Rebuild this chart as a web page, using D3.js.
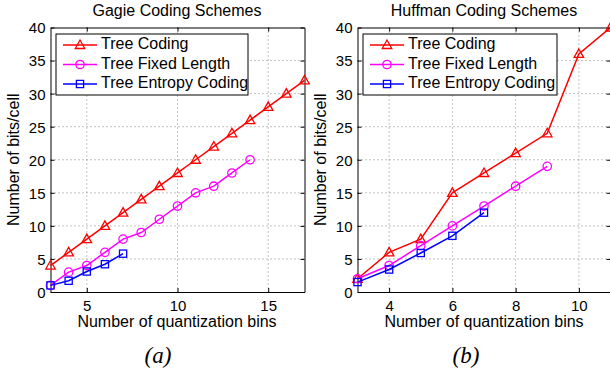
<!DOCTYPE html>
<html><head><meta charset="utf-8">
<script src="https://cdn.jsdelivr.net/npm/d3@7"></script>
<style>
html,body{margin:0;padding:0;background:#fff;overflow:hidden}
svg{display:block;font-family:"Liberation Sans",Arial,Helvetica,sans-serif}
</style></head>
<body>
<svg id="c" width="610" height="375"></svg>
<script>
// ---- Data ----
const seriesNames = ["Tree Coding", "Tree Fixed Length", "Tree Entropy Coding"];
const seriesColors = ["#ff0000", "#ff00ff", "#0000ff"];
const seriesMarkers = ["triangle", "circle", "square"];

// Gagie Coding Schemes
const gagieBins = [3,4,5,6,7,8,9,10,11,12,13,14,15,16,17];
const gagieTreeCoding = [4,6,8,10,12,14,16,18,20,22,24,26,28,30,32];
const gagieFixedLength = [1,3,4,6,8,9,11,13,15,16,18,20];
const gagieEntropy = [1,1.7,3.1,4.2,5.8];

// Huffman Coding Schemes
const huffBins = [3,4,5,6,7,8,9,10,11];
const huffTreeCoding = [2,6,8,15,18,21,24,36,40];
const huffFixedLength = [2,4,7,10,13,16,19];
const huffEntropy = [1.5,3.4,5.9,8.5,12];

const yTicks = [0,5,10,15,20,25,30,35,40];
const gagieXTicks = [5,10,15];
const huffXTicks = [4,6,8,10];

const panels = [
  {title:"Gagie Coding Schemes", caption:"(a)", bins:gagieBins,
   series:[gagieTreeCoding,gagieFixedLength,gagieEntropy], xDomain:[3,17], xTicks:gagieXTicks,
   left:50.5, right:304.5, legend:{x0:56, x1:248}, yLabelX:15, captionX:158, titleX:177, xLabelX:177},
  {title:"Huffman Coding Schemes", caption:"(b)", bins:huffBins,
   series:[huffTreeCoding,huffFixedLength,huffEntropy], xDomain:[3,11], xTicks:huffXTicks,
   left:357.5, right:610.5, legend:{x0:363, x1:557}, yLabelX:322, captionX:466, titleX:484, xLabelX:484}
];

const svg = d3.select("#c");
const plotTop = 27.5, plotBottom = 292;
const fs = 16, tfs = 15;

function marker(g, type, x, y, color){
  if(type==="triangle"){
    const s = 5;
    g.append("path").attr("d", `M${x},${y-s} L${x+s*0.95},${y+s*0.7} L${x-s*0.95},${y+s*0.7} Z`)
      .attr("fill","none").attr("stroke",color).attr("stroke-width",1.3);
  } else if(type==="circle"){
    g.append("circle").attr("cx",x).attr("cy",y).attr("r",4.2)
      .attr("fill","none").attr("stroke",color).attr("stroke-width",1.3);
  } else {
    g.append("rect").attr("x",x-3.6).attr("y",y-3.6).attr("width",7.2).attr("height",7.2)
      .attr("fill","none").attr("stroke",color).attr("stroke-width",1.3);
  }
}

panels.forEach(p=>{
  const g = svg.append("g");
  const x = d3.scaleLinear().domain(p.xDomain).range([p.left,p.right]);
  const y = d3.scaleLinear().domain([0,40]).range([plotBottom,plotTop]);

  // grid
  const grid = g.append("g").attr("stroke","#666").attr("stroke-width",0.8).attr("stroke-dasharray","1,3");
  p.xTicks.forEach(t=>{
    grid.append("line").attr("x1",x(t)).attr("x2",x(t)).attr("y1",plotTop).attr("y2",plotBottom);
  });
  yTicks.forEach(t=>{
    if(t===0||t===40) return;
    grid.append("line").attr("x1",p.left).attr("x2",p.right).attr("y1",y(t)).attr("y2",y(t));
  });

  // axes with d3
  const xAxis = d3.axisBottom(x).tickValues(p.xTicks).tickSizeInner(-4).tickSizeOuter(0);
  const gx = g.append("g").attr("transform",`translate(0,${plotBottom})`).call(xAxis);
  gx.selectAll("text").attr("font-size",tfs).attr("fill","#000").attr("font-family","Liberation Sans, Arial, sans-serif")
    .attr("y",18.7).attr("dy",null);
  gx.selectAll("line,path").attr("stroke","#000");
  const xAxisTop = d3.axisTop(x).tickValues(p.xTicks).tickSizeInner(-4).tickSizeOuter(0).tickFormat("");
  g.append("g").attr("transform",`translate(0,${plotTop})`).call(xAxisTop).selectAll("line,path").attr("stroke","#000");

  const yAxis = d3.axisLeft(y).tickValues(yTicks).tickSizeInner(-4).tickSizeOuter(0);
  const gy = g.append("g").attr("transform",`translate(${p.left},0)`).call(yAxis);
  gy.selectAll("text").attr("font-size",tfs).attr("fill","#000").attr("font-family","Liberation Sans, Arial, sans-serif")
    .attr("x",-5).attr("dy","0.36em");
  gy.selectAll("line,path").attr("stroke","#000");
  const yAxisR = d3.axisRight(y).tickValues(yTicks).tickSizeInner(-4).tickSizeOuter(0).tickFormat("");
  g.append("g").attr("transform",`translate(${p.right},0)`).call(yAxisR).selectAll("line,path").attr("stroke","#000");

  // series
  p.series.forEach((vals,i)=>{
    const pts = vals.map((v,j)=>[p.bins[j],v]);
    g.append("path").datum(pts)
      .attr("d", d3.line().x(d=>x(d[0])).y(d=>y(d[1])))
      .attr("fill","none").attr("stroke",seriesColors[i]).attr("stroke-width",1.5);
    pts.forEach(d=>marker(g, seriesMarkers[i], x(d[0]), y(d[1]), seriesColors[i]));
  });

  // title
  g.append("text").attr("x",p.titleX).attr("y",16)
    .attr("text-anchor","middle").attr("font-size",fs).text(p.title);
  // x label
  g.append("text").attr("x",p.xLabelX).attr("y",326.5)
    .attr("text-anchor","middle").attr("font-size",fs).text("Number of quantization bins");
  // y label
  g.append("text").attr("transform",`translate(${p.yLabelX},${(plotTop+plotBottom)/2}) rotate(-90)`)
    .attr("text-anchor","middle").attr("dominant-baseline","middle").attr("font-size",fs).text("Number of bits/cell");

  // legend
  const lg = g.append("g");
  lg.append("rect").attr("x",p.legend.x0).attr("y",34).attr("width",p.legend.x1-p.legend.x0).attr("height",61)
    .attr("fill","#fff").attr("stroke","#000").attr("stroke-width",1);
  seriesNames.forEach((n,i)=>{
    const ly = 45 + i*19.5;
    const lx0 = p.legend.x0 + 7, lx1 = p.legend.x0 + 41;
    lg.append("line").attr("x1",lx0).attr("x2",lx1).attr("y1",ly).attr("y2",ly)
      .attr("stroke",seriesColors[i]).attr("stroke-width",1.5);
    marker(lg, seriesMarkers[i], (lx0+lx1)/2, ly, seriesColors[i]);
    lg.append("text").attr("x",p.legend.x0 + 45).attr("y",ly).attr("dominant-baseline","middle")
      .attr("font-size",fs).text(n);
  });

  // caption
  svg.append("text").attr("x",p.captionX).attr("y",363).attr("text-anchor","middle")
    .attr("font-family","Liberation Serif, Times New Roman, serif").attr("font-style","italic")
    .attr("font-size",23).text(p.caption);
});
</script>
</body></html>
